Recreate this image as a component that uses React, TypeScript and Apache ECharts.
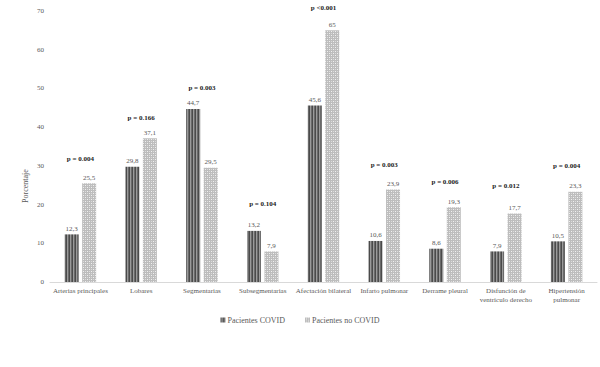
import React, { useEffect, useRef } from "react";
import * as echarts from "echarts";

const categories = [
  "Arterias principales",
  "Lobares",
  "Segmentarias",
  "Subsegmentarias",
  "Afectación bilateral",
  "Infarto pulmonar",
  "Derrame pleural",
  "Disfunción de\nventrículo derecho",
  "Hipertensión\npulmonar",
];
const covidValues = [12.3, 29.8, 44.7, 13.2, 45.6, 10.6, 8.6, 7.9, 10.5];
const noCovidValues = [25.5, 37.1, 29.5, 7.9, 65, 23.9, 19.3, 17.7, 23.3];
const pTexts = [
  "p = 0.004",
  "p = 0.166",
  "p = 0.003",
  "p = 0.104",
  "p <0.001",
  "p = 0.003",
  "p = 0.006",
  "p = 0.012",
  "p = 0.004",
];
const pLabelHeights = [32, 42.5, 50.3, 20.4, 70.9, 30.4, 26, 25, 30.2];
const yTicks = [0, 10, 20, 30, 40, 50, 60, 70];
const seriesNames = ["Pacientes COVID", "Pacientes no COVID"];

function makeTile(draw: (ctx: CanvasRenderingContext2D) => void, w: number, h: number): string {
  const c = document.createElement("canvas");
  c.width = w;
  c.height = h;
  const ctx = c.getContext("2d")!;
  draw(ctx);
  return c.toDataURL();
}

export default function App() {
  const ref = useRef<HTMLDivElement>(null);
  useEffect(() => {
    if (!ref.current) return;
    const chart = echarts.init(ref.current, undefined, { renderer: "svg" });
    const darkTile = makeTile((ctx) => {
      ctx.fillStyle = "#4a4a4a";
      ctx.fillRect(0, 0, 3, 3);
      ctx.fillStyle = "#9a9a9a";
      ctx.fillRect(1, 0, 1, 3);
      ctx.fillStyle = "#6a6a6a";
      ctx.fillRect(2, 0, 1, 3);
    }, 3, 3);
    const lightTile = makeTile((ctx) => {
      ctx.fillStyle = "#bdbdbd";
      ctx.fillRect(0, 0, 4, 4);
      ctx.fillStyle = "#f0f0f0";
      ctx.fillRect(1, 1, 1, 1);
      ctx.fillRect(3, 3, 1, 1);
      ctx.fillStyle = "#dadada";
      ctx.fillRect(1, 3, 1, 1);
      ctx.fillRect(3, 1, 1, 1);
    }, 4, 4);
    const darkColor: any = { image: darkTile, repeat: "repeat" };
    const lightColor: any = { image: lightTile, repeat: "repeat" };
    const serif = "'Liberation Serif', 'DejaVu Serif', serif";
    const fmt = (v: number) => String(v).replace(".", ",");

    chart.setOption({
      animation: false,
      backgroundColor: "#ffffff",
      textStyle: { fontFamily: serif },
      grid: { left: 50, right: 3, top: 11, bottom: 85, containLabel: false },
      legend: {
        data: seriesNames,
        bottom: 38,
        left: "center",
        itemWidth: 5,
        itemHeight: 5,
        itemGap: 20,
        icon: "rect",
        textStyle: { fontFamily: serif, fontSize: 8, color: "#595959", padding: [0, 0, 0, -3] },
      },
      xAxis: {
        type: "category",
        data: categories,
        axisTick: { show: false },
        axisLine: { lineStyle: { color: "#d9d9d9", width: 1 } },
        axisLabel: {
          interval: 0,
          fontFamily: serif,
          fontSize: 7,
          color: "#595959",
          margin: 4,
          lineHeight: 9,
        },
      },
      yAxis: {
        type: "value",
        min: 0,
        max: 70,
        interval: 10,
        splitLine: { show: false },
        axisLine: { show: false },
        axisTick: { show: false },
        axisLabel: {
          fontFamily: serif,
          fontSize: 7,
          color: "#595959",
          margin: 6,
          formatter: (v: number) => (yTicks.includes(v) ? String(v) : ""),
        },
      },
      graphic: [
        {
          type: "text",
          x: 25,
          y: 186,
          rotation: Math.PI / 2,
          style: {
            text: "Porcentaje",
            fontFamily: serif,
            fontSize: 8,
            fill: "#595959",
            align: "center",
            verticalAlign: "middle",
          },
        },
      ],
      series: [
        {
          name: seriesNames[0],
          type: "bar",
          data: covidValues,
          barWidth: 14,
          barGap: "25%",
          itemStyle: { color: darkColor },
          label: {
            show: true,
            position: "top",
            distance: 2,
            fontFamily: serif,
            fontSize: 7,
            color: "#595959",
            formatter: (p: any) => fmt(p.value),
          },
        },
        {
          name: seriesNames[1],
          type: "bar",
          data: noCovidValues,
          barWidth: 14,
          barGap: "25%",
          itemStyle: { color: lightColor },
          label: {
            show: true,
            position: "top",
            distance: 2,
            fontFamily: serif,
            fontSize: 7,
            color: "#595959",
            formatter: (p: any) => fmt(p.value),
          },
        },
        {
          name: "p",
          type: "scatter",
          data: pLabelHeights,
          symbolSize: 0,
          clip: false,
          silent: true,
          itemStyle: { color: "#1a1a1a", opacity: 0 },
          label: {
            show: true,
            position: "top",
            distance: 0,
            offset: [0, 4],
            fontFamily: serif,
            fontSize: 7,
            fontWeight: "bold",
            color: "#1a1a1a",
            opacity: 1,
            formatter: (p: any) => pTexts[p.dataIndex],
          },
        },
      ],
    });
    return () => chart.dispose();
  }, []);
  return (
    <div
      ref={ref}
      style={{ position: "absolute", left: 0, top: 0, width: 600, height: 367 }}
    />
  );
}
